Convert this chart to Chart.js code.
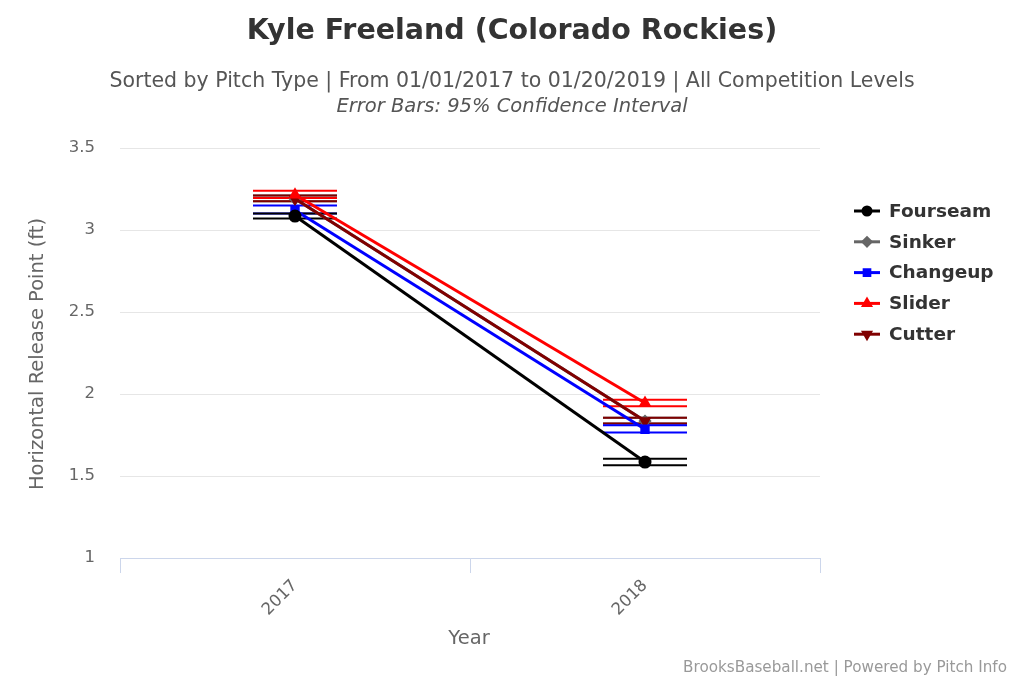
<!DOCTYPE html>
<html>
<head>
<meta charset="utf-8">
<script src="https://cdn.jsdelivr.net/npm/chart.js@4/dist/chart.umd.min.js"></script>
<style>
html,body{margin:0;padding:0;background:#fff;}
#wrap{width:1024px;height:683px;position:relative;}
</style>
</head>
<body>
<div id="wrap"><canvas id="c" width="1024" height="683"></canvas></div>
<script>
const years = ["2017", "2018"];
const yTicks = [1, 1.5, 2, 2.5, 3, 3.5];

const seriesNames = ["Fourseam", "Sinker", "Changeup", "Slider", "Cutter"];

const fourseam = [3.085, 1.585];
const fourseamLow = [3.07, 1.565];
const fourseamHigh = [3.10, 1.605];

const sinker = [3.19, 1.835];
const sinkerLow = [3.175, 1.82];
const sinkerHigh = [3.21, 1.855];

const changeup = [3.12, 1.785];
const changeupLow = [3.10, 1.765];
const changeupHigh = [3.15, 1.81];

const slider = [3.215, 1.945];
const sliderLow = [3.195, 1.925];
const sliderHigh = [3.24, 1.965];

const cutter = [3.19, 1.835];
const cutterLow = [3.175, 1.82];
const cutterHigh = [3.21, 1.855];

const FONT = "'DejaVu Sans', 'Lucida Grande', Verdana, sans-serif";

function ds(label, data, low, high, color, style, radius, rotation) {
  return {
    label, data, errLow: low, errHigh: high,
    borderColor: color, backgroundColor: color,
    pointBackgroundColor: color, pointBorderColor: color,
    pointStyle: style, pointRadius: radius, pointHoverRadius: radius,
    pointRotation: rotation || 0,
    borderWidth: 3, tension: 0, fill: false
  };
}

// Chart.js paints dataset 0 last (on top); Sinker is hidden below Cutter.
const datasets = [
  ds(seriesNames[0], fourseam, fourseamLow, fourseamHigh, "#000000", "circle", 5),
  ds(seriesNames[2], changeup, changeupLow, changeupHigh, "#0000ff", "rect", 4.5),
  ds(seriesNames[3], slider, sliderLow, sliderHigh, "#ff0000", "triangle", 4.5),
  ds(seriesNames[4], cutter, cutterLow, cutterHigh, "#800000", "triangle", 4.5, 180),
  ds(seriesNames[1], sinker, sinkerLow, sinkerHigh, "#666666", "rectRot", 4.5)
];

const errorBars = {
  id: "errorBars",
  beforeDatasetsDraw(chart) {
    const ctx = chart.ctx;
    const y = chart.scales.y;
    for (let di = chart.data.datasets.length - 1; di >= 0; di--) {
      const d = chart.data.datasets[di];
      const meta = chart.getDatasetMeta(di);
      ctx.save();
      ctx.strokeStyle = d.borderColor;
      ctx.lineWidth = 2;
      meta.data.forEach((pt, i) => {
        const x = pt.x;
        const yl = y.getPixelForValue(d.errLow[i]);
        const yh = y.getPixelForValue(d.errHigh[i]);
        ctx.beginPath();
        ctx.moveTo(x - 42, yl); ctx.lineTo(x + 42, yl);
        ctx.moveTo(x - 42, yh); ctx.lineTo(x + 42, yh);
        ctx.moveTo(x, yl); ctx.lineTo(x, yh);
        ctx.stroke();
      });
      ctx.restore();
    }
  }
};

const texts = {
  id: "texts",
  afterDraw(chart) {
    const ctx = chart.ctx;
    ctx.save();
    ctx.textBaseline = "middle";
    ctx.textAlign = "center";
    ctx.fillStyle = "#333333";
    ctx.font = "bold 28.5px " + FONT;
    ctx.fillText("Kyle Freeland (Colorado Rockies)", 512, 32);
    ctx.fillStyle = "#555555";
    ctx.font = "20.5px " + FONT;
    ctx.fillText("Sorted by Pitch Type | From 01/01/2017 to 01/20/2019 | All Competition Levels", 512, 82);
    ctx.font = "italic 19.5px " + FONT;
    ctx.fillText("Error Bars: 95% Confidence Interval", 512, 107);

    ctx.fillStyle = "#666666";
    ctx.font = "19.5px " + FONT;
    ctx.fillText("Year", 469, 639);
    ctx.save();
    ctx.translate(38, 354);
    ctx.rotate(-Math.PI / 2);
    ctx.fillText("Horizontal Release Point (ft)", 0, 0);
    ctx.restore();

    ctx.textAlign = "right";
    ctx.fillStyle = "#999999";
    ctx.font = "15.2px " + FONT;
    ctx.fillText("BrooksBaseball.net | Powered by Pitch Info", 1007, 668);

    seriesNames.forEach((name, k) => {
      const d = chart.data.datasets.find(s => s.label === name);
      const cy = 211 + k * 30.8;
      ctx.strokeStyle = d.borderColor;
      ctx.lineWidth = 3;
      ctx.beginPath();
      ctx.moveTo(854, cy); ctx.lineTo(880, cy);
      ctx.stroke();
      Chart.helpers.drawPoint(ctx, {
        pointStyle: d.pointStyle, radius: 4, rotation: d.pointRotation, borderWidth: 1
      }, 867, cy);
      ctx.fillStyle = d.borderColor;
      ctx.fill();
      ctx.fillStyle = "#333333";
      ctx.textAlign = "left";
      ctx.font = "bold 18.5px " + FONT;
      ctx.fillText(name, 889, cy + 1);
    });
    ctx.restore();
  }
};

new Chart(document.getElementById("c"), {
  type: "line",
  data: { labels: years, datasets },
  plugins: [errorBars, texts],
  options: {
    responsive: false,
    animation: false,
    devicePixelRatio: 1,
    layout: { padding: { top: 148, right: 204, left: 0, bottom: 0 } },
    plugins: { legend: { display: false }, title: { display: false }, tooltip: { enabled: false } },
    scales: {
      x: {
        type: "category",
        offset: true,
        grid: { display: true, offset: true, drawOnChartArea: false, color: "#ccd6eb", tickLength: 15, lineWidth: 1 },
        border: { display: true, color: "#ccd6eb", width: 1 },
        ticks: { color: "#666666", font: { family: FONT, size: 16.5 }, minRotation: 45, maxRotation: 45, padding: 3 },
        afterFit(s) { s.height = 683 - 558; }
      },
      y: {
        min: 1, max: 3.5,
        afterBuildTicks(s) { s.ticks = yTicks.map(v => ({ value: v })); },
        grid: { color: "#e6e6e6", drawTicks: false, lineWidth: 1 },
        border: { display: false },
        ticks: { color: "#666666", font: { family: FONT, size: 16.5 }, padding: 25,
                 callback: v => String(v) },
        afterFit(s) { s.width = 120; }
      }
    }
  }
});
</script>
</body>
</html>
